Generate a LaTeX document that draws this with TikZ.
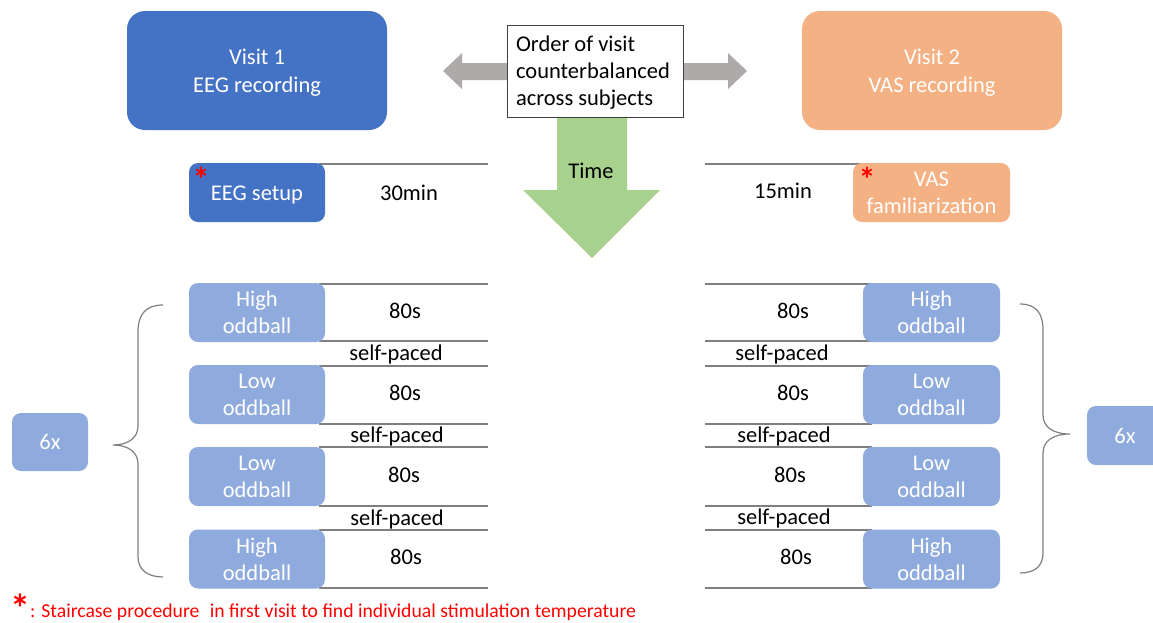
\documentclass[tikz,border=0pt]{standalone}
\usepackage{fontspec}
\setmainfont{Carlito}
\definecolor{dblue}{HTML}{4472C4}
\definecolor{lblue}{HTML}{8FAADC}
\definecolor{peach}{HTML}{F4B183}
\definecolor{ggreen}{HTML}{A9D18E}
\definecolor{garrow}{HTML}{AEAAAA}
\definecolor{lgray}{HTML}{7F7F7F}
\definecolor{bred}{HTML}{FF0000}
\tikzset{
  tx/.style={font=\fontsize{22.5}{27}\selectfont, inner sep=0pt, text=black},
  smallbox/.style={rounded corners=9pt, minimum height=59pt, inner sep=0pt, text=white, align=center, font=\fontsize{22.5}{27}\selectfont},
  oddbox/.style={smallbox, fill=lblue, minimum width=136pt},
  tline/.style={draw=lgray, line width=1.6pt},
  bracestyle/.style={draw=lgray, line width=1.2pt},
  star/.style={text=bred, inner sep=0pt, font=\fontsize{34}{34}\selectfont\bfseries}
}
\begin{document}
\begin{tikzpicture}[x=1pt,y=-1pt]
\useasboundingbox (0,0) rectangle (1153,622);

% top visit boxes
\fill[dblue, rounded corners=18pt] (127,11) rectangle (387,130);
\node[tx, text=white, align=center, font=\fontsize{22.5}{28}\selectfont] (v1) at (257,73) {Visit 1\\EEG recording};
\fill[peach, rounded corners=18pt] (802,11) rectangle (1062,130);
\node[tx, text=white, align=center, font=\fontsize{22.5}{28}\selectfont] (v2) at (932,73) {Visit 2\\VAS recording};

% gray double arrow
\fill[garrow] (507,63) -- (462,63) -- (462,53) -- (443,71) -- (462,89) -- (462,80) -- (507,80) -- cycle;
\fill[garrow] (683,63) -- (728,63) -- (728,53) -- (747,71) -- (728,89) -- (728,80) -- (683,80) -- cycle;

% green time arrow
\fill[ggreen] (557,117) -- (627,117) -- (627,190) -- (660,190) -- (592,258) -- (523,190) -- (557,190) -- cycle;
\node[tx] (time) at (591,171) {Time};

% order box
\draw[black!75, line width=1pt, fill=white] (507,25) rectangle (683,117);
\node[tx, align=left, font=\fontsize{22.5}{27}\selectfont] (order) at (593,73) {Order of visit\\counterbalanced\\across subjects};

% timeline lines
\foreach \yy in {164,284,341,366,424,447,506,530,588} {
  \draw[tline] (319,\yy) -- (488,\yy);
}
\foreach \yy in {284,341,366,424,447,506,530,588} {
  \draw[tline] (705,\yy) -- (872,\yy);
}
\draw[tline] (705,164) -- (862,164);

% setup boxes
\node[smallbox, fill=dblue, minimum width=136pt] (eeg) at (257,192.5) {};
\node[tx, text=white] (eegt) at (257,195.5) {EEG setup};
\node[star] (s1) at (201,179) {*};
\node[tx] (t30) at (409,193) {30min};
\node[smallbox, fill=peach, minimum width=157pt] (vas) at (931.5,192.5) {VAS\\familiarization};
\node[star] (s2) at (867,179) {*};
\node[tx] (t15) at (783,191) {15min};

% left oddballs
\node[oddbox] (l1) at (257,312.5) {High\\oddball};
\node[oddbox] (l2) at (257,394.5) {Low\\oddball};
\node[oddbox] (l3) at (257,476.5) {Low\\oddball};
\node[oddbox] (l4) at (257,559) {High\\oddball};
\node[tx] (la1) at (405,311) {80s};
\node[tx] (la2) at (405,393) {80s};
\node[tx] (la3) at (404,475) {80s};
\node[tx] (la4) at (406,557) {80s};
\node[tx] (lp1) at (396,354) {self-paced};
\node[tx] (lp2) at (397,436) {self-paced};
\node[tx] (lp3) at (397,519) {self-paced};

% right oddballs
\node[oddbox, minimum width=137pt] (r1) at (931.5,312.5) {High\\oddball};
\node[oddbox, minimum width=137pt] (r2) at (931.5,394.5) {Low\\oddball};
\node[oddbox, minimum width=137pt] (r3) at (931.5,476.5) {Low\\oddball};
\node[oddbox, minimum width=137pt] (r4) at (931.5,559) {High\\oddball};
\node[tx] (ra1) at (793,311) {80s};
\node[tx] (ra2) at (793,393) {80s};
\node[tx] (ra3) at (790,475) {80s};
\node[tx] (ra4) at (796,557) {80s};
\node[tx] (rp1) at (782,354) {self-paced};
\node[tx] (rp2) at (784,436) {self-paced};
\node[tx] (rp3) at (784,518) {self-paced};

% braces
\draw[bracestyle] (163,305) .. controls (146,305) and (138,314) .. (138,332) -- (138,426) .. controls (138,438) and (128,445) .. (113,445) .. controls (128,445) and (138,452) .. (138,464) -- (138,557) .. controls (138,570) and (148,577) .. (163,577);
\draw[bracestyle] (1020,304) .. controls (1036,304) and (1043,313) .. (1043,330) -- (1043,415) .. controls (1043,427) and (1053,434) .. (1070,434) .. controls (1053,434) and (1043,441) .. (1043,453) -- (1043,553) .. controls (1043,566) and (1035,573) .. (1020,573);

% 6x boxes
\node[smallbox, fill=lblue, minimum width=76pt, minimum height=58pt] (six1) at (50,442) {6x};
\node[smallbox, fill=lblue, minimum width=76pt, minimum height=59pt] (six2) at (1125,435.5) {6x};

% footnote
\node[text=bred, inner sep=0pt, font=\fontsize{40}{40}\selectfont\bfseries] (s3) at (20,608) {*};
\node[text=bred, inner sep=0pt, anchor=base west, font=\fontsize{19.7}{22}\selectfont] (foot) at (30,617) {: Staircase procedure\hspace{0.3em} in first visit to find individual stimulation temperature};
\end{tikzpicture}
\end{document}
